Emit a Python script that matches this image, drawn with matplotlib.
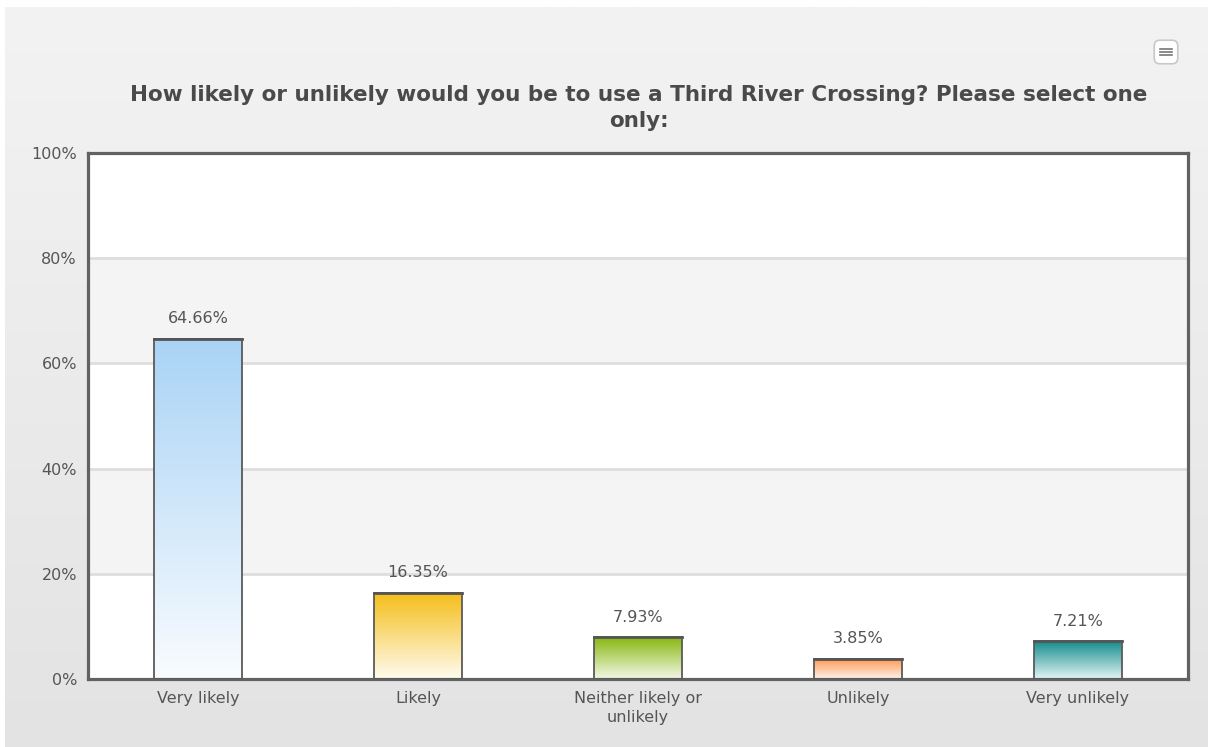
import numpy as np
import matplotlib
matplotlib.use("Agg")
import matplotlib.pyplot as plt
from matplotlib.colors import LinearSegmentedColormap
from matplotlib.patches import FancyBboxPatch

categories = ["Very likely", "Likely", "Neither likely or\nunlikely", "Unlikely", "Very unlikely"]
values = [64.66, 16.35, 7.93, 3.85, 7.21]
top_colors = ["#a9d3f5", "#f5bd17", "#88b70f", "#ff9650", "#128c8e"]
bottom_colors = ["#f9fcff", "#fffcf0", "#f3f8e8", "#fff3eb", "#e6f4f4"]
yticks = [0, 20, 40, 60, 80, 100]
title = "How likely or unlikely would you be to use a Third River Crossing? Please select one\nonly:"

fig = plt.figure(figsize=(12.08, 7.47), dpi=100)
fig.patch.set_facecolor("white")

# background panel with a soft vertical gradient
bg = fig.add_axes([5 / 1208, 0, 1 - 5 / 1208, 1 - 7 / 747])
bg_cmap = LinearSegmentedColormap.from_list("bg", ["#e3e3e3", "#f3f3f3"])
bg.imshow(np.linspace(0, 1, 256).reshape(-1, 1), cmap=bg_cmap, aspect="auto",
          origin="lower", extent=[0, 1, 0, 1])
bg.set_axis_off()

# menu button in the corner
btn = fig.add_axes([1152 / 1208, 1 - 66 / 747, 28 / 1208, 28 / 747])
btn.set_xlim(0, 1)
btn.set_ylim(0, 1)
btn.add_patch(FancyBboxPatch((0.08, 0.08), 0.84, 0.84, boxstyle="round,pad=0,rounding_size=0.2",
                             fc="white", ec="#c8c8c8", lw=1.2))
for yy in [0.38, 0.5, 0.62]:
    btn.plot([0.3, 0.7], [yy, yy], color="#777777", lw=1.2)
btn.set_axis_off()

ax = fig.add_axes([88 / 1208, 68 / 747, 1100 / 1208, 526 / 747])
ax.set_facecolor("white")

# alternating bands and grid lines
for i in range(len(yticks) - 1):
    if i % 2 == 1:
        ax.axhspan(yticks[i], yticks[i + 1], color="#f4f4f4", zorder=0)
for t in yticks[1:-1]:
    ax.axhline(t, color="#dedede", lw=2, zorder=1)

x = np.arange(len(categories))
w = 0.4
for xi, v, c1, c2 in zip(x, values, top_colors, bottom_colors):
    cm = LinearSegmentedColormap.from_list("g", [c2, c1])
    ax.imshow(np.linspace(0, 1, 256).reshape(-1, 1), cmap=cm, aspect="auto", origin="lower",
              extent=[xi - w / 2, xi + w / 2, 0, v], zorder=2)
    ax.bar(xi, v, width=w, facecolor="none", edgecolor="#5a5a5a", lw=1.3, zorder=3)
    ax.plot([xi - w / 2, xi + w / 2], [v, v], color="#555555", lw=2, zorder=4)
    ax.annotate(f"{v:.2f}%", (xi, v), xytext=(0, 9), textcoords="offset points",
                ha="center", va="bottom", fontsize=11.5, color="#555555")

ax.set_xlim(-0.5, len(categories) - 0.5)
ax.set_ylim(0, 100)
ax.set_xticks(x)
ax.set_xticklabels(categories, fontsize=11.5, color="#555555", linespacing=1.3)
ax.set_yticks(yticks)
ax.set_yticklabels([f"{t}%" for t in yticks], fontsize=11.5, color="#555555")
ax.tick_params(length=0, pad=8)
ax.tick_params(axis="x", pad=9)
for s in ax.spines.values():
    s.set_color("#626262")
    s.set_linewidth(2.3)

fig.text(0.5 + 35 / 1208, 1 - 108 / 747, title, ha="center", va="center", fontsize=15.5,
         fontweight="bold", color="#4a4a4a", linespacing=1.35)

fig.savefig("out.png", dpi=100)
